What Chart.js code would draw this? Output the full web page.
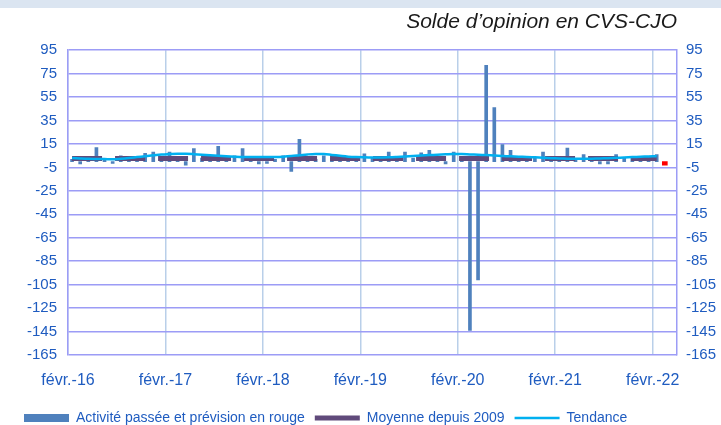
<!DOCTYPE html>
<html lang="fr">
<head>
<meta charset="utf-8">
<title>Solde d'opinion en CVS-CJO</title>
<script src="https://cdn.jsdelivr.net/npm/chart.js@4.4.1/dist/chart.umd.min.js"></script>
<style>
  html, body { margin: 0; padding: 0; background: #fff; }
  canvas { display: block; }
</style>
</head>
<body>
<canvas id="graphique" width="721" height="425"></canvas>
<script>
// Étiquettes des axes
const ticksX = ['févr.-16', 'févr.-17', 'févr.-18', 'févr.-19', 'févr.-20', 'févr.-21', 'févr.-22'];
const ticksY = [-165, -145, -125, -105, -85, -65, -45, -25, -5, 15, 35, 55, 75, 95];

// Activité passée, mensuelle, de févr.-16 à févr.-22
const activite = [
  2, -2, 3, 12, 2, -1.5, 5, 3, 2, 7, 8, 3,
  8, 4, -3, 11, 3, 2, 13, 3, 5, 11, 2, -2,
  -1.5, 2, 5, -8.5, 19, 3, 2, 5, 3, 2, 3, 2,
  6.5, 3, 2, 8, 3, 8, 3, 7.5, 9.5, 3, -2, 8,
  3, -144, -101, 82, 46, 14.5, 9.5, 3, 2, 3, 8, 3,
  2, 11.5, 2, 6, 2, -2, -2, 6, 3, 3, 2, 3,
  6
];
// Prévision (en rouge) : mars-22
const prevision = [-3];
// Moyenne depuis 2009
const moyenne = 2.7;
// Tendance, de févr.-16 à févr.-22
const tendance = [
  3.0, 2.6, 2.3, 2.2, 2.1, 2.0, 2.4, 3.0, 3.8, 4.6, 5.3, 6.0,
  6.4, 6.7, 6.6, 6.3, 5.9, 5.4, 5.0, 4.6, 4.2, 3.9, 3.8, 3.8,
  3.8, 3.9, 4.2, 4.7, 5.4, 6.1, 6.5, 6.4, 5.7, 4.9, 4.2, 3.8,
  3.6, 3.5, 3.5, 3.6, 3.9, 4.3, 4.8, 5.2, 5.5, 5.8, 6.2, 6.5,
  6.4, 6.1, 5.8, 5.5, 5.2, 4.8, 4.5, 4.2, 4.0, 3.6, 3.2, 2.9,
  2.7, 2.5, 2.4, 2.4, 2.5, 2.7, 2.9, 3.2, 3.5, 3.8, 4.1, 4.4,
  4.6
];

const nbMois = 75;        // mois affichés sur l'axe (dont un vide en fin)
const pasEtiquettes = 12; // une étiquette par an

const POLICE = "'Liberation Sans', Arial, sans-serif";
const BLEU_TEXTE = '#1f5cc0';
const GRILLE_H = '#9c9cf6';
const GRILLE_V = '#b9cfe9';

// x au milieu du mois
const pt = (v, i) => ({ x: i + 0.5, y: v });

const fond = {
  id: 'fond',
  beforeDraw(chart) {
    const ctx = chart.ctx;
    ctx.save();
    ctx.fillStyle = '#ffffff';
    ctx.fillRect(0, 0, chart.width, chart.height);
    ctx.fillStyle = '#dbe5f1';
    ctx.fillRect(0, 0, chart.width, 8);
    ctx.restore();
  }
};

const axeY = (cote, largeur) => ({
  position: cote,
  min: ticksY[0],
  max: ticksY[ticksY.length - 1],
  afterBuildTicks: s => { s.ticks = ticksY.map(v => ({ value: v })); },
  afterFit: s => { s.width = largeur; },
  ticks: { color: BLEU_TEXTE, font: { family: POLICE, size: 15 }, padding: cote === 'left' ? 11 : 9 },
  grid: { display: cote === 'left', color: GRILLE_H, lineWidth: 1.5, drawTicks: false },
  border: { color: GRILLE_H, width: 1.5 }
});

new Chart(document.getElementById('graphique'), {
  type: 'bar',
  data: {
    datasets: [
      {
        label: 'Activité passée et prévision en rouge',
        data: activite.map(pt),
        backgroundColor: '#4f81bd',
        barThickness: 3,
        grouped: false,
        pointStyle: 'rect',
        order: 3
      },
      {
        label: 'Prévision',
        data: prevision.map((v, i) => pt(v, activite.length + i)),
        backgroundColor: '#ff0000',
        barThickness: 5,
        grouped: false,
        order: 3
      },
      {
        type: 'line',
        label: 'Moyenne depuis 2009',
        data: activite.map((_, i) => pt(moyenne, i)),
        borderColor: '#604a7b',
        backgroundColor: '#604a7b',
        borderWidth: 5,
        borderDash: [30, 13],
        borderCapStyle: 'butt',
        pointRadius: 0,
        pointStyle: 'line',
        order: 2
      },
      {
        type: 'line',
        label: 'Tendance',
        data: tendance.map(pt),
        borderColor: '#00b0f0',
        backgroundColor: '#00b0f0',
        borderWidth: 2.5,
        tension: 0.4,
        pointRadius: 0,
        pointStyle: 'line',
        order: 1
      }
    ]
  },
  options: {
    responsive: false,
    animation: false,
    layout: { padding: { left: 14, right: 0, top: 0, bottom: -10 } },
    plugins: {
      tooltip: { enabled: false },
      title: {
        display: true,
        text: 'Solde d’opinion en CVS-CJO',
        align: 'end',
        fullSize: false,
        color: '#1a1a1a',
        font: { family: POLICE, size: 21, style: 'italic', weight: 'normal' },
        padding: { top: 10, bottom: 15 }
      },
      legend: {
        position: 'bottom',
        align: 'start',
        labels: {
          usePointStyle: true,
          pointStyleWidth: 45,
          boxHeight: 8,
          padding: 10,
          color: BLEU_TEXTE,
          font: { family: POLICE, size: 14 },
          filter: item => item.text !== 'Prévision',
          sort: (a, b) => a.datasetIndex - b.datasetIndex,
          generateLabels: chart => Chart.defaults.plugins.legend.labels.generateLabels(chart)
            .map(l => ({ ...l, lineDash: [] }))
        }
      }
    },
    scales: {
      x: {
        type: 'linear',
        offset: false,
        min: 0,
        max: nbMois,
        afterBuildTicks: s => { s.ticks = ticksX.map((_, i) => ({ value: i * pasEtiquettes })); },
        afterFit: s => { s.height = 46; },
        ticks: {
          callback: (v, i) => ticksX[i],
          color: BLEU_TEXTE,
          font: { family: POLICE, size: 16 },
          padding: 16,
          autoSkip: false,
          maxRotation: 0
        },
        grid: { offset: false, color: GRILLE_V, lineWidth: 1.5, drawTicks: false },
        border: { display: false }
      },
      y: axeY('left', 54),
      y2: axeY('right', 44)
    }
  },
  plugins: [fond]
});
</script>
</body>
</html>
